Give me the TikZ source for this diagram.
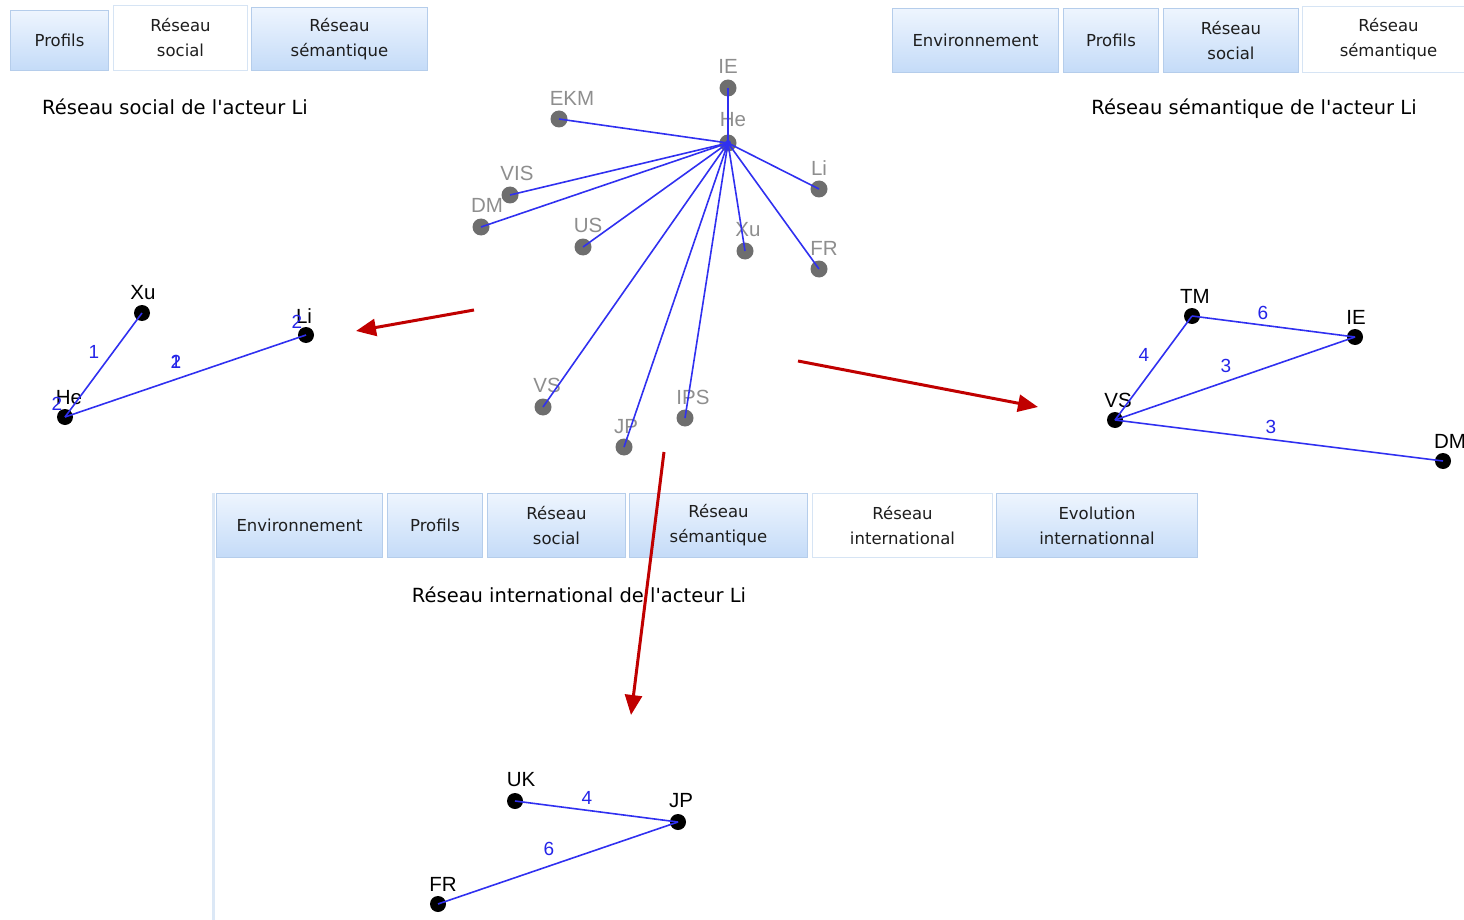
\documentclass[tikz,border=0pt]{standalone}
\usepackage{fontspec}
\setmainfont{DejaVu Sans}[Ligatures=TeXOff]
\newfontfamily\graphfont{Liberation Sans}
\usetikzlibrary{arrows.meta,shadings}

\definecolor{tabtop}{HTML}{EEF5FE}
\definecolor{tabbot}{HTML}{C4DBF8}
\definecolor{tabedge}{HTML}{B5CDEB}
\definecolor{tabtext}{HTML}{1E1E1E}
\definecolor{edgeblue}{HTML}{3030F0}
\definecolor{numblue}{HTML}{2424E8}
\definecolor{arrowred}{HTML}{C00000}
\definecolor{dotgray}{HTML}{6E6E6E}
\definecolor{labgray}{HTML}{8E8E8E}
\definecolor{paneledge}{HTML}{DCE8F6}

\begin{document}
\begin{tikzpicture}[x=1pt,y=-1pt,
  tab/.style={draw=tabedge, line width=1pt, top color=tabtop, bottom color=tabbot,
    anchor=north west, inner sep=0pt, align=center, text=tabtext,
    font=\fontsize{16.5}{25}\selectfont},
  acttab/.style={draw=tabedge!55, line width=1pt, fill=white,
    anchor=north west, inner sep=0pt, align=center, text=tabtext,
    font=\fontsize{16.5}{25}\selectfont},
  title/.style={inner sep=0pt, text=black, font=\fontsize{19.5}{22}\selectfont},
  gdot/.style={circle, fill=dotgray, minimum size=17pt, inner sep=0pt},
  bdot/.style={circle, fill=black, minimum size=16pt, inner sep=0pt},
  glab/.style={inner sep=0pt, text=labgray, font=\graphfont\fontsize{20.5}{21}\selectfont},
  blab/.style={inner sep=0pt, text=black, font=\graphfont\fontsize{20.5}{21}\selectfont},
  wlab/.style={inner sep=0pt, text=numblue, font=\graphfont\fontsize{19}{20}\selectfont},
  gedge/.style={draw=edgeblue, line width=1.6pt},
  redarrow/.style={draw=arrowred, line width=3pt, -{Triangle[length=20pt,width=17pt]}}
]
\useasboundingbox (0,0) rectangle (1464,920);

% ---------- top-left window: social network ----------
\node[tab, minimum width=98pt, minimum height=60pt] (tl1) at (10,10) {Profils};
\node[acttab, minimum width=134pt, minimum height=65pt] (tl2) at (113,5) {Réseau\\social};
\node[tab, minimum width=176pt, minimum height=63pt] (tl3) at (251,7) {Réseau\\sémantique};
\node[title] (tlt) at (175,107) {Réseau social de l'acteur Li};

\node[bdot] (s-xu) at (142,313) {};
\node[bdot] (s-li) at (306,335) {};
\node[bdot] (s-he) at (65,417) {};
\node[blab] (sl-xu) at (143,293) {Xu};
\node[blab] (sl-li) at (304,316) {Li};
\node[blab] (sl-he) at (69,398) {He};
\draw[gedge] (s-he.center) -- (s-xu.center);
\draw[gedge] (s-he.center) -- (s-li.center);
\node[wlab] (sw1) at (94,352) {1};
\node[wlab] (sw2) at (176,362) {1};
\node[wlab] (sw3) at (176,362) {2};
\node[wlab] (sw4) at (57,404) {2};
\node[wlab] (sw5) at (297,322) {2};

% ---------- top-right window: semantic network ----------
\node[tab, minimum width=166pt, minimum height=64pt] (tr1) at (892,8) {Environnement};
\node[tab, minimum width=95pt, minimum height=64pt] (tr2) at (1063,8) {Profils};
\node[tab, minimum width=135pt, minimum height=64pt] (tr3) at (1163,8) {Réseau\\social};
\node[acttab, minimum width=172pt, minimum height=66pt] (tr4) at (1302,6) {Réseau\\sémantique};
\node[title] (trt) at (1254,109) {Réseau sémantique de l'acteur Li};

\node[bdot] (m-tm) at (1192,316) {};
\node[bdot] (m-ie) at (1355,337) {};
\node[bdot] (m-vs) at (1115,420) {};
\node[bdot] (m-dm) at (1443,461) {};
\node[blab] (ml-tm) at (1195,296) {TM};
\node[blab] (ml-ie) at (1356,317) {IE};
\node[blab] (ml-vs) at (1118,400) {VS};
\node[blab] (ml-dm) at (1450,441) {DM};
\draw[gedge] (m-tm.center) -- (m-ie.center);
\draw[gedge] (m-vs.center) -- (m-tm.center);
\draw[gedge] (m-vs.center) -- (m-ie.center);
\draw[gedge] (m-vs.center) -- (m-dm.center);
\node[wlab] (mw1) at (1263,313) {6};
\node[wlab] (mw2) at (1144,355) {4};
\node[wlab] (mw3) at (1226,366) {3};
\node[wlab] (mw4) at (1271,427) {3};

% ---------- central graph: full network of He ----------
\node[gdot] (c-he) at (728,143) {};
\node[gdot] (c-ie) at (728,88) {};
\node[gdot] (c-ekm) at (559,119) {};
\node[gdot] (c-vis) at (510,195) {};
\node[gdot] (c-dm) at (481,227) {};
\node[gdot] (c-us) at (583,247) {};
\node[gdot] (c-xu) at (745,251) {};
\node[gdot] (c-li) at (819,189) {};
\node[gdot] (c-fr) at (819,269) {};
\node[gdot] (c-vs) at (543,407) {};
\node[gdot] (c-jp) at (624,447) {};
\node[gdot] (c-ips) at (685,418) {};
\node[glab] (cl-he) at (733,120) {He};
\node[glab] (cl-ie) at (728,66) {IE};
\node[glab] (cl-ekm) at (572,98) {EKM};
\node[glab] (cl-vis) at (517,173) {VIS};
\node[glab] (cl-dm) at (487,205) {DM};
\node[glab] (cl-us) at (588,225) {US};
\node[glab] (cl-xu) at (748,230) {Xu};
\node[glab] (cl-li) at (819,168) {Li};
\node[glab] (cl-fr) at (824,248) {FR};
\node[glab] (cl-vs) at (547,385) {VS};
\node[glab] (cl-ips) at (693,397) {IPS};
\node[glab] (cl-jp) at (626,427) {JP};
\foreach \n in {ie,ekm,vis,dm,us,xu,li,fr,vs,jp,ips}
  \draw[gedge] (c-he.center) -- (c-\n.center);
\fill[edgeblue] (c-he.center) circle (3pt);

% ---------- bottom window: international network ----------
\draw[paneledge, line width=3pt] (213,493) -- (213,920);
\node[tab, minimum width=166pt, minimum height=64pt] (b1) at (216,493) {Environnement};
\node[tab, minimum width=95pt, minimum height=64pt] (b2) at (387,493) {Profils};
\node[tab, minimum width=138pt, minimum height=64pt] (b3) at (487,493) {Réseau\\social};
\node[tab, minimum width=178pt, minimum height=64pt] (b4) at (629,493) {Réseau\\sémantique};
\node[acttab, minimum width=180pt, minimum height=64pt] (b5) at (812,493) {Réseau\\international};
\node[tab, minimum width=201pt, minimum height=64pt] (b6) at (996,493) {Evolution\\internationnal};
\node[title] (bt) at (579,595) {Réseau international de l'acteur Li};

\node[bdot] (i-uk) at (515,801) {};
\node[bdot] (i-jp) at (678,822) {};
\node[bdot] (i-fr) at (438,904) {};
\node[blab] (il-uk) at (521,780) {UK};
\node[blab] (il-jp) at (681,801) {JP};
\node[blab] (il-fr) at (443,884) {FR};
\draw[gedge] (i-uk.center) -- (i-jp.center);
\draw[gedge] (i-fr.center) -- (i-jp.center);
\node[wlab] (iw1) at (587,798) {4};
\node[wlab] (iw2) at (549,849) {6};

% ---------- red arrows from the full network to each view ----------
\coordinate (r1s) at (474,310);
\coordinate (r1e) at (356,331);
\coordinate (r2s) at (798,361);
\coordinate (r2e) at (1038,407);
\coordinate (r3s) at (664,452);
\coordinate (r3e) at (631,715);
\draw[redarrow] (r1s) -- (r1e);
\draw[redarrow] (r2s) -- (r2e);
\draw[redarrow] (r3s) -- (r3e);
\end{tikzpicture}
\end{document}
